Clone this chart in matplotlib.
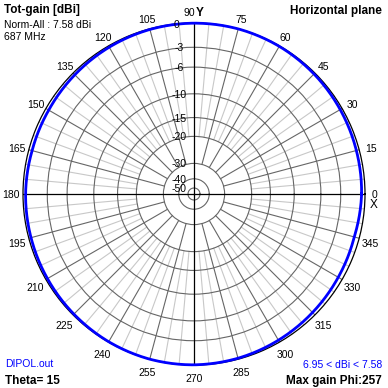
'''
horizontal plane gain pattern, dipole at theta=15
'''
import numpy as np
import matplotlib
matplotlib.use('Agg')
import matplotlib.pyplot as plt

plt.rcParams['font.family'] = ['Liberation Sans', 'DejaVu Sans']

# ---- data ----
phi_deg = [0, 15, 30, 45, 60, 75, 90, 105, 120, 135, 150, 165,
           180, 195, 210, 225, 240, 255, 270, 285, 300, 315, 330, 345, 360]
# gain relative to max (7.58 dBi)
gain_db = [-0.42, -0.36, -0.27, -0.16, -0.06, -0.01, -0.02, -0.08, -0.18, -0.30, -0.40, -0.42,
           -0.32, -0.28, -0.22, -0.14, -0.05, 0.00, -0.02, -0.12, -0.27, -0.42, -0.55, -0.63, -0.42]

ring_db = [-3, -6, -10, -15, -20, -30, -40, -50]
ring_labels = ['-3', '-6', '-10', '-15', '-20', '-30', '-40', '-50']
angle_labels = list(range(15, 360, 15))

# radial scale of the plot (dB -> fraction of radius)
scale_db = [-60, -50, -40, -30, -20, -15, -10, -6, -3, 0, 3]
scale_fr = [0.0, 0.035, 0.089, 0.179, 0.337, 0.447, 0.586, 0.742, 0.858, 1.0, 1.14]


def fwd(v):
    return np.interp(v, scale_db, scale_fr)


def inv(v):
    return np.interp(v, scale_fr, scale_db)


PX = 0.72  # points per pixel at dpi 100
dark = '#666666'
light = '#c8c8c8'
fs = 7.5

fig = plt.figure(figsize=(3.88, 3.88), dpi=100)
R = 171 / 388.
ax = fig.add_axes([0.5 - R, 0.5 - R, 2 * R, 2 * R], projection='polar')
ax.set_rscale('function', functions=(fwd, inv))
ax.set_rlim(-60, 0)
ax.set_yticks(ring_db)
ax.set_yticklabels([])
ax.set_xticks([])
ax.yaxis.grid(True, color=dark, lw=0.8)
ax.xaxis.grid(False)
ax.spines['polar'].set_color('black')
ax.spines['polar'].set_linewidth(0.9)

# spokes
for a in range(0, 360, 5):
    th = np.deg2rad(a)
    if a % 90 == 0:
        ax.plot([th, th], [-60, 0], color='black', lw=0.9, zorder=3)
    elif a % 15 == 0:
        ax.plot([th, th], [-30, 0], color=dark, lw=0.8, zorder=2)
    else:
        ax.plot([th, th], [-20, 0], color=light, lw=0.8, zorder=1)

# pattern
ln, = ax.plot(np.deg2rad(phi_deg), gain_db, color='#0000ff', lw=2.0, zorder=5, clip_on=False)
ln.get_path()._interpolation_steps = 20

# ring labels
ax.annotate('0', xy=(np.pi / 2, 0), xytext=(-17 * PX, -1.5 * PX), textcoords='offset points',
            ha='center', va='center', fontsize=fs, zorder=6)
for lv, lb in zip(ring_db, ring_labels):
    ax.annotate(lb, xy=(np.pi / 2, lv), xytext=(-15 * PX, -1 * PX), textcoords='offset points',
                ha='center', va='center', fontsize=fs, zorder=6)

# angle labels
for a in angle_labels:
    if a in (90, 180):
        continue
    th = np.deg2rad(a)
    ax.annotate(str(a), xy=(th, 0), xytext=(12 * np.cos(th) * PX, (12 * np.sin(th) - 2.5) * PX),
                textcoords='offset points', ha='center', va='center', fontsize=fs,
                annotation_clip=False)
ax.annotate('0', xy=(0, 0), xytext=(9 * PX, -1.5 * PX), textcoords='offset points',
            ha='center', va='center', fontsize=fs, annotation_clip=False)
ax.annotate('X', xy=(0, 0), xytext=(9 * PX, -11.5 * PX), textcoords='offset points',
            ha='center', va='center', fontsize=fs + 1, annotation_clip=False)
ax.annotate('90', xy=(np.pi / 2, 0), xytext=(1 * PX, 10.5 * PX), textcoords='offset points',
            ha='right', va='center', fontsize=fs, annotation_clip=False)
ax.annotate('Y', xy=(np.pi / 2, 0), xytext=(2 * PX, 10.5 * PX), textcoords='offset points',
            ha='left', va='center', fontsize=fs + 1, fontweight='bold', annotation_clip=False)
ax.annotate('180', xy=(np.pi, 0), xytext=(-12 * PX, -1 * PX), textcoords='offset points',
            ha='center', va='center', fontsize=fs, annotation_clip=False)

# header / footer texts
def ftext(x, y, s, **kw):
    fig.text(x / 388., 1 - y / 388., s, va='center', **kw)

ftext(4, 10.5, 'Tot-gain [dBi]', fontsize=8.5, fontweight='bold')
ftext(4, 24.5, 'Norm-All : 7.58 dBi', fontsize=fs)
ftext(4, 37.5, '687 MHz', fontsize=fs)
ftext(382, 11, 'Horizontal plane', fontsize=8.5, fontweight='bold', ha='right')
ftext(5, 364, 'DIPOL.out', fontsize=fs, color='#0000ff')
ftext(5, 381, 'Theta= 15', fontsize=8.5, fontweight='bold')
ftext(382, 365, '6.95 < dBi < 7.58', fontsize=fs, color='#0000ff', ha='right')
ftext(382, 381, 'Max gain Phi:257', fontsize=8.5, fontweight='bold', ha='right')

fig.savefig('out.png', dpi=100)
